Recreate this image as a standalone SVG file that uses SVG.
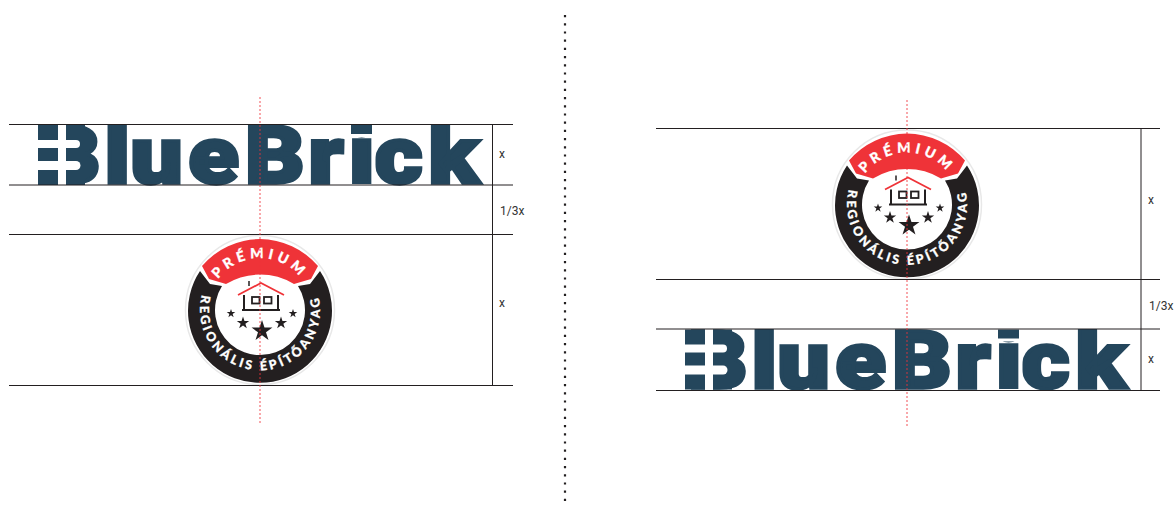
<svg xmlns="http://www.w3.org/2000/svg" width="1174" height="506" viewBox="0 0 1174 506">
<style>
.g{stroke:#231f20;stroke-width:1;fill:none}
.r{stroke:#ef3338;stroke-width:1;stroke-dasharray:2 2;fill:none;opacity:.85}
.l{font:400 12px Roboto,sans-serif;fill:#333}
.w{font-family:Lato,sans-serif;font-weight:900;fill:#fff;stroke:#fff;stroke-width:.3}
.logo{font-family:Roboto,sans-serif;font-weight:900;font-size:79.500px;fill:#24465c;stroke:#24465c;stroke-width:3.500;stroke-linejoin:miter}
</style>
<defs>
<clipPath id="cap"><rect x="30" y="124.500" width="460" height="62"/></clipPath>
<path id="top" d="M-51 -10A52 52 0 0 1 51 -10"/>
<path id="bot" d="M-58 -15A60 60 0 1 0 58 -15"/>
<polygon id="s" points="0,-1 .225,-.309 .951,-.309 .363,.118 .588,.809 0,.382 -.588,.809 -.363,.118 -.951,-.309 -.225,-.309"/>
<g id="badge">
<circle r="74.500" fill="#fff" stroke="#e8e8e8" stroke-width="1.500"/>
<path d="M-60 -39A72 72 0 1 0 60 -39L50 -26L38 -24A45 45 0 1 1 -38 -24L-50 -26Z" fill="#231f20"/>
<path d="M-58 -44A76 76 0 0 1 58 -44L51 -31L34 -26A66 66 0 0 0 -34 -26L-51 -31Z" fill="#ef3338"/>
<path d="M-22 -15L1 -27L24 -15" fill="none" stroke="#ef3338" stroke-width="1.800"/>
<path d="M-11 -29V-24" fill="none" stroke="#231f20" stroke-width="1.500"/>
<path d="M-16 -15V0M18 -15V0M-18 0H20" fill="none" stroke="#231f20" stroke-width="2"/>
<rect x="-8" y="-13" width="7.500" height="6.500" fill="none" stroke="#231f20" stroke-width="1.800"/>
<rect x="4" y="-13" width="7.500" height="6.500" fill="none" stroke="#231f20" stroke-width="1.800"/>
<use href="#s" transform="translate(-29 3.500) scale(4.500)" fill="#231f20"/>
<use href="#s" transform="translate(-17 13) scale(6.500)" fill="#231f20"/>
<use href="#s" transform="translate(2 21) scale(11)" fill="#231f20"/>
<use href="#s" transform="translate(21 13) scale(6.500)" fill="#231f20"/>
<use href="#s" transform="translate(33 3.500) scale(4.500)" fill="#231f20"/>
</g>
<g id="cuts">
<rect x="38" y="125" width="47" height="60" fill="#24465c"/>
<rect x="58" y="124" width="8" height="62" fill="#fff"/>
<path d="M37 140H76a4 4 0 0 1 0 8H37Z" fill="#fff"/>
<path d="M37 161H76a4.500 4.500 0 0 1 0 9H37Z" fill="#fff"/>
<rect x="346" y="124" width="29.500" height="13" fill="#fff"/>
<rect x="346" y="124" width="5" height="63" fill="#fff"/>
<rect x="372" y="124" width="3.500" height="63" fill="#fff"/>
<rect x="351" y="125" width="21" height="9" fill="#24465c"/>
</g>
</defs>

<g id="logo-left">
<g clip-path="url(#cap)"><text class="logo" transform="scale(1.16 1)" x="35.300 90.100 112.500 162.500 211.200 266 300.900 322.800 369.400" y="183.300">BlueBrick</text></g>
<use href="#cuts"/>
</g>
<g id="badge-left" transform="translate(260 310)">
<use href="#badge"/>
<text class="w" font-size="14" letter-spacing="4.300" text-anchor="middle"><textPath href="#top" startOffset="50%">PRÉMIUM</textPath></text>
<text class="w" font-size="12.500" letter-spacing="3" text-anchor="middle"><textPath href="#bot" startOffset="50%">REGIONÁLIS ÉPÍTŐANYAG</textPath></text>
</g>
<g id="logo-right" transform="translate(647 204.500)">
<g clip-path="url(#cap)"><text class="logo" transform="scale(1.16 1)" x="35.300 90.100 112.500 162.500 211.200 266 300.900 322.800 369.400" y="183.300">BlueBrick</text></g>
<use href="#cuts"/>
</g>
<g id="badge-right" transform="translate(907 204.500)">
<use href="#badge"/>
<text class="w" font-size="14" letter-spacing="4.300" text-anchor="middle"><textPath href="#top" startOffset="50%">PRÉMIUM</textPath></text>
<text class="w" font-size="12.500" letter-spacing="3" text-anchor="middle"><textPath href="#bot" startOffset="50%">REGIONÁLIS ÉPÍTŐANYAG</textPath></text>
</g>

<g id="connectors">
<path class="g" d="M9 124.500H513M9 185H513M9 234.500H513M9 385.500H513M492.500 124.500V385.500"/>
<path class="g" d="M656 128.500H1160M656 279.500H1160M656 329H1160M656 390.500H1160M1141 128.500V390.500"/>
<path class="r" d="M260 97V424M907 100V428"/>
<path d="M565 15V502" stroke="#231f20" stroke-width="2.200" stroke-dasharray="2.200 6" fill="none"/>
</g>
<g id="labels">
<text class="l" x="499" y="158">x</text>
<text class="l" x="500" y="215">1/3x</text>
<text class="l" x="499" y="307">x</text>
<text class="l" x="1148" y="204">x</text>
<text class="l" x="1149" y="310">1/3x</text>
<text class="l" x="1148" y="363">x</text>
</g>
</svg>
